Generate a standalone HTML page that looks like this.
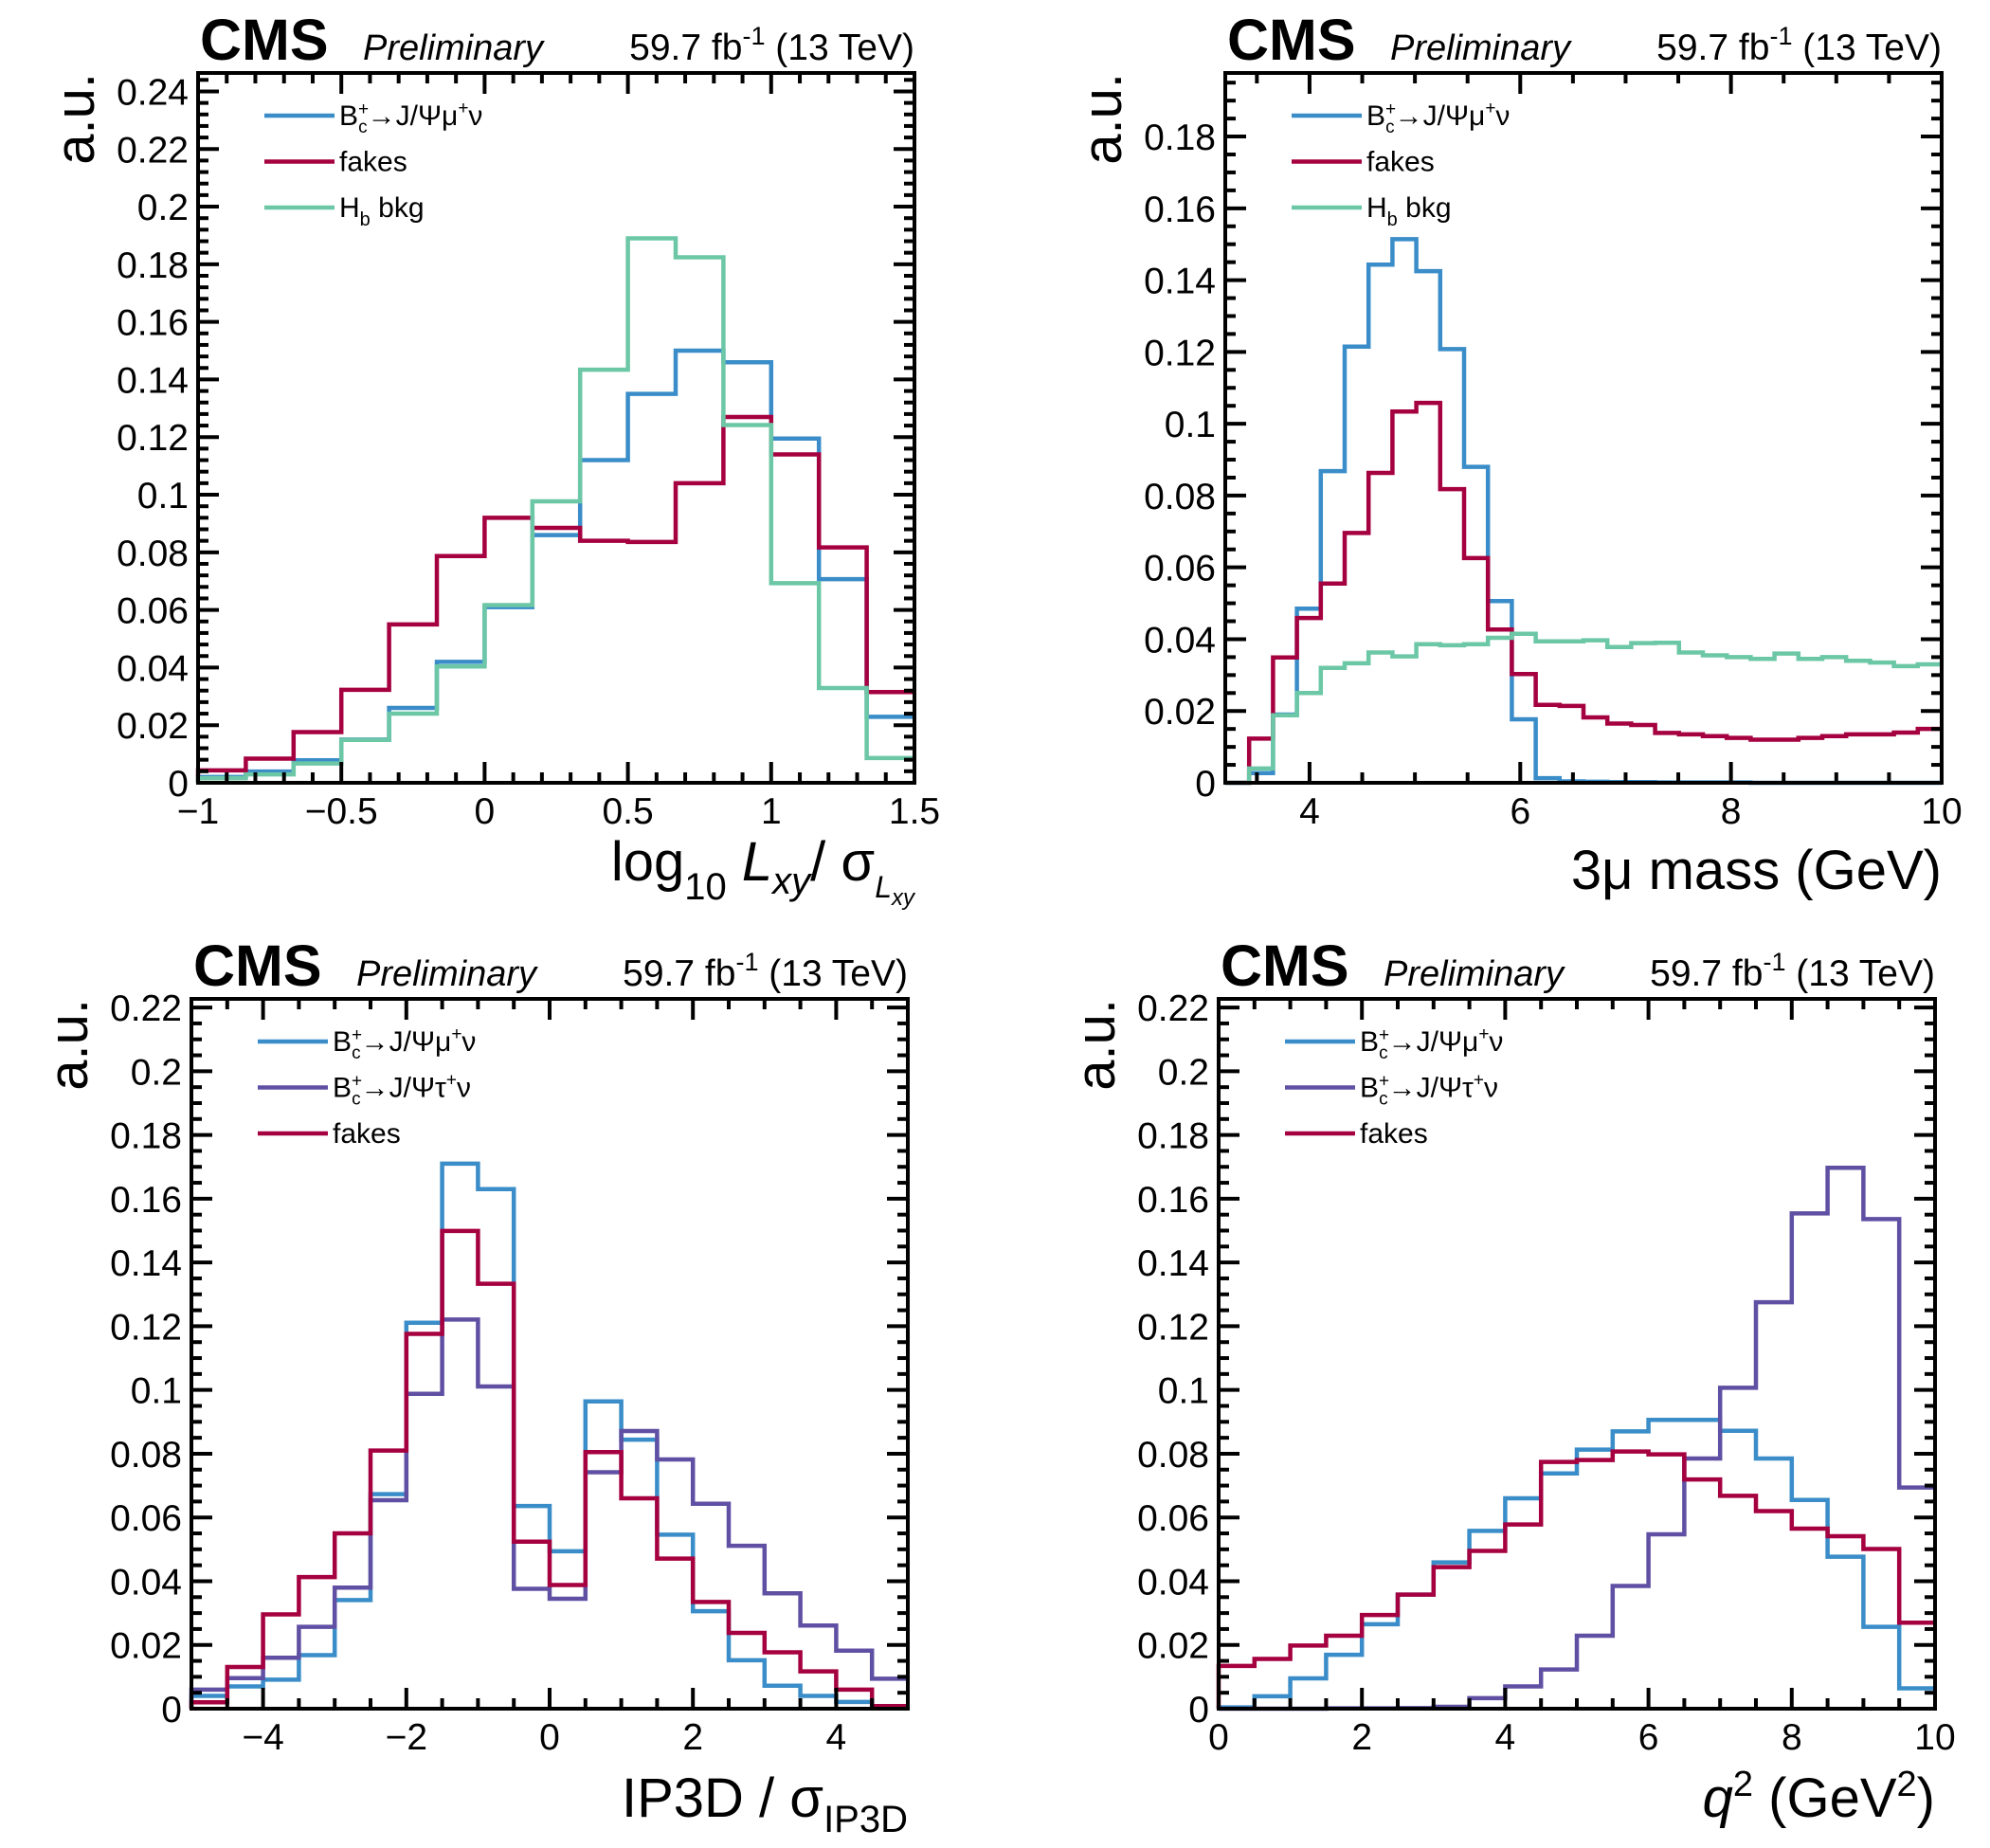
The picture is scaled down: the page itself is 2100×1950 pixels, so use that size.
<!DOCTYPE html>
<html><head><meta charset="utf-8"><style>
html,body{margin:0;padding:0;background:#fff;}
svg{display:block;font-family:"Liberation Sans",Arial,sans-serif;}
</style></head><body>
<svg id="root" width="2100" height="1950" viewBox="0 0 2100 1950" xmlns="http://www.w3.org/2000/svg"></svg>
<script>
// ---------- Panel 1 data: log10 Lxy/sigma ----------
const p1Range = [-1, 1.5];
const p1BinCount = 15;
const p1Blue = [0.002,0.0039,0.0078,0.015,0.026,0.042,0.061,0.086,0.112,0.135,0.150,0.146,0.1195,0.0707,0.0229];
const p1Red = [0.0043,0.0084,0.0176,0.0323,0.055,0.0787,0.092,0.0885,0.084,0.0836,0.104,0.127,0.114,0.0817,0.0315];
const p1Teal = [0.0016,0.0029,0.0067,0.0149,0.024,0.0404,0.0617,0.0977,0.1434,0.189,0.1824,0.1242,0.0693,0.0329,0.0086];
const p1YTicks = ["0","0.02","0.04","0.06","0.08","0.1","0.12","0.14","0.16","0.18","0.2","0.22","0.24"];
const p1XTicks = ["\u22121","\u22120.5","0","0.5","1","1.5"];

// ---------- Panel 2 data: 3mu mass ----------
const p2Range = [3.2, 10];
const p2BinCount = 30;
const p2Blue = [0,0.0027,0.019,0.0485,0.0868,0.1215,0.1443,0.1514,0.1425,0.1208,0.088,0.0506,0.0177,0.0013,0.0004,0.0003,0.0002,0.0002,0.0001,0.0001,0.0001,0.0001,0,0,0,0,0,0,0,0];
const p2Red = [0,0.0123,0.0349,0.0459,0.0555,0.0696,0.0863,0.1034,0.1058,0.0818,0.0626,0.0427,0.0303,0.0217,0.0214,0.0182,0.0165,0.0161,0.0139,0.0135,0.013,0.0125,0.012,0.012,0.0125,0.013,0.0135,0.0135,0.014,0.015];
const p2Teal = [0,0.004,0.0188,0.025,0.032,0.0333,0.0363,0.0352,0.0386,0.0383,0.0386,0.0404,0.0415,0.0394,0.0394,0.0397,0.0378,0.0389,0.039,0.0363,0.0355,0.035,0.0345,0.036,0.0345,0.035,0.034,0.0335,0.0325,0.033];
const p2YTicks = ["0","0.02","0.04","0.06","0.08","0.1","0.12","0.14","0.16","0.18"];
const p2XTicks = ["4","6","8","10"];

// ---------- Panel 3 data: IP3D significance ----------
const p3Range = [-5, 5];
const p3BinCount = 20;
const p3Blue = [0.004,0.007,0.0091,0.0168,0.0341,0.0673,0.1211,0.171,0.163,0.0636,0.0494,0.0964,0.0844,0.0546,0.0306,0.0152,0.0072,0.004,0.0021,0.0008];
const p3Purple = [0.006,0.0096,0.016,0.0257,0.038,0.0654,0.0988,0.1221,0.1011,0.0376,0.0345,0.0742,0.0871,0.0782,0.0643,0.0511,0.0362,0.0261,0.0182,0.0094];
const p3Red = [0.002,0.0131,0.0296,0.0413,0.055,0.081,0.1176,0.1499,0.1333,0.0524,0.0388,0.0805,0.066,0.0471,0.0335,0.0238,0.0177,0.0117,0.006,0.0008];
const p3YTicks = ["0","0.02","0.04","0.06","0.08","0.1","0.12","0.14","0.16","0.18","0.2","0.22"];
const p3XTicks = ["\u22124","\u22122","0","2","4"];

// ---------- Panel 4 data: q^2 ----------
const p4Range = [0, 10];
const p4BinCount = 20;
const p4Blue = [0.0004,0.0039,0.0095,0.0169,0.0265,0.0358,0.0459,0.0558,0.066,0.0738,0.0813,0.087,0.0906,0.0906,0.0872,0.0785,0.0655,0.0477,0.0257,0.0064];
const p4Purple = [0,0,0,0.0001,0.0001,0.0002,0.0006,0.0033,0.007,0.0123,0.0229,0.0385,0.0547,0.0785,0.1007,0.1275,0.1554,0.1697,0.1536,0.0694];
const p4Red = [0.0134,0.0156,0.0198,0.0229,0.0294,0.0358,0.0444,0.0495,0.0578,0.0774,0.078,0.0807,0.0798,0.0719,0.0668,0.062,0.0565,0.0541,0.0501,0.027];
const p4YTicks = ["0","0.02","0.04","0.06","0.08","0.1","0.12","0.14","0.16","0.18","0.2","0.22"];
const p4XTicks = ["0","2","4","6","8","10"];

const BLUE="#3a8dc8", RED="#a5003f", TEAL="#6cc7a6", PURPLE="#6050a3";
const NS="http://www.w3.org/2000/svg";
const root=document.getElementById('root');
function mk(tag,attrs,parent){const e=document.createElementNS(NS,tag);for(const k in attrs)e.setAttribute(k,attrs[k]);(parent||root).appendChild(e);return e;}

function panel(o){
  const g=mk('g',{});
  
  
  const L=o.left,T=o.top,W=756,H=o.h,B=T+H;
  const xs=v=>L+(v-o.xr[0])/(o.xr[1]-o.xr[0])*W;
  const ys=v=>B-v/o.ymax*H;
  o.series.forEach(s=>{
    const n=s.vals.length, bw=(o.xr[1]-o.xr[0])/n;
    let d="M"+xs(o.xr[0])+","+ys(0);
    s.vals.forEach((v,i)=>{d+=" L"+xs(o.xr[0]+i*bw)+","+ys(v)+" L"+xs(o.xr[0]+(i+1)*bw)+","+ys(v);});
    const p=mk('path',{d:d,fill:"none",stroke:s.color,"stroke-width":4.5,"stroke-linejoin":"miter"},g);
    
    
  });
  const fr=mk('rect',{x:L,y:T,width:W,height:H,fill:"none",stroke:"#000","stroke-width":4},g);
  
  
  const ty=mk('g',{stroke:"#000","stroke-width":4},g);
  
  
  for(let v=0; v<=o.ymax+1e-9; v+=o.yminor){
    const major=Math.abs(v/o.ymajor-Math.round(v/o.ymajor))<1e-6;
    const len=major?22:11, y=ys(v);
    mk('line',{x1:L,x2:L+len,y1:y,y2:y},ty);
    mk('line',{x1:L+W,x2:L+W-len,y1:y,y2:y},ty);
  }
  o.yLabels.forEach((t,i)=>{
    const e=mk('text',{x:L-10,y:ys(i*o.ymajor)+14,"text-anchor":"end","font-size":39},g);
    e.textContent=t;
    
    
  });
  const tx=mk('g',{stroke:"#000","stroke-width":4},g);
  
  
  const start=Math.ceil(o.xr[0]/o.xminor-1e-9)*o.xminor;
  for(let v=start; v<=o.xr[1]+1e-9; v+=o.xminor){
    const major=Math.abs(v/o.xmajor-Math.round(v/o.xmajor))<1e-6;
    const len=major?22:11, x=xs(v);
    mk('line',{x1:x,x2:x,y1:B,y2:B-len},tx);
    mk('line',{x1:x,x2:x,y1:T,y2:T+len},tx);
  }
  o.xLabels.forEach((t,i)=>{
    const e=mk('text',{x:xs(o.xFirst+i*o.xmajor),y:B+43,"text-anchor":"middle","font-size":39},g);
    e.textContent=t;
    
    
  });
  const cms=mk('text',{x:L+2,y:T-14,"font-size":61,"font-weight":"bold"},g);
  cms.textContent="CMS";
  
  
  const pre=mk('text',{x:L+174,y:T-14,"font-size":38,"font-style":"italic"},g);
  pre.textContent="Preliminary";
  
  
  const lum=mk('text',{x:L+W,y:T-14,"font-size":39,"text-anchor":"end"},g);
  lum.innerHTML='59.7 fb<tspan dy="-16" font-size="27">-1</tspan><tspan dy="16"> (13 TeV)</tspan>';
  
  
  const yt=mk('text',{x:0,y:0,"font-size":58,"text-anchor":"end",transform:`translate(${L-110},${T}) rotate(-90)`},g);
  yt.textContent="a.u.";
  
  
  const xt=mk('text',{x:L+W,y:o.xtY,"font-size":58,"text-anchor":"end"},g);
  xt.innerHTML=o.xTitle;
  
  
  o.series.forEach((s,i)=>{
    const y=T+45+i*48.5;
    const ln=mk('line',{x1:L+70,x2:L+144,y1:y,y2:y,stroke:s.color,"stroke-width":4.5},g);
    
    
    const tt=mk('text',{x:L+149,y:y+10,"font-size":30},g);
    tt.innerHTML=s.label;
    
    
  });
}
const bmu='B<tspan font-size="19" dy="-11">+</tspan><tspan font-size="19" dx="-11" dy="19">c</tspan><tspan dy="-8">\u2192J/\u03A8\u03BC</tspan><tspan font-size="19" dy="-12">+</tspan><tspan dy="12">\u03BD</tspan>';
const btau='B<tspan font-size="19" dy="-11">+</tspan><tspan font-size="19" dx="-11" dy="19">c</tspan><tspan dy="-8">\u2192J/\u03A8\u03C4</tspan><tspan font-size="19" dy="-12">+</tspan><tspan dy="12">\u03BD</tspan>';
const fakes='fakes';
const hb='H<tspan font-size="20" dy="9">b</tspan><tspan dy="-9"> bkg</tspan>';

panel({name:"panel-lxy-significance",left:209,top:77,h:749,xr:p1Range,ymax:0.2464,ymajor:0.02,yminor:0.004,xmajor:0.5,xminor:0.1,xFirst:-1,
 yLabels:p1YTicks,xLabels:p1XTicks,xtY:929,
 xTitle:'log<tspan font-size="40" dy="20">10</tspan><tspan dy="-20" font-style="italic"> L</tspan><tspan font-style="italic" font-size="40" dy="14">xy</tspan><tspan dy="-14">/  \u03C3</tspan><tspan font-style="italic" font-size="32" dy="18">L</tspan><tspan font-style="italic" font-size="24" dy="8">xy</tspan>',
 series:[{name:"series-bc-jpsi-mu",color:BLUE,vals:p1Blue,label:bmu},{name:"series-fakes",color:RED,vals:p1Red,label:fakes},{name:"series-hb-bkg",color:TEAL,vals:p1Teal,label:hb}]});

panel({name:"panel-3mu-mass",left:1293,top:77,h:749,xr:p2Range,ymax:0.1977,ymajor:0.02,yminor:0.005,xmajor:2,xminor:0.5,xFirst:4,
 yLabels:p2YTicks,xLabels:p2XTicks,xtY:938,
 xTitle:'3\u03BC mass (GeV)',
 series:[{name:"series-bc-jpsi-mu",color:BLUE,vals:p2Blue,label:bmu},{name:"series-fakes",color:RED,vals:p2Red,label:fakes},{name:"series-hb-bkg",color:TEAL,vals:p2Teal,label:hb}]});

panel({name:"panel-ip3d-significance",left:202,top:1054,h:749,xr:p3Range,ymax:0.2227,ymajor:0.02,yminor:0.005,xmajor:2,xminor:0.5,xFirst:-4,
 yLabels:p3YTicks,xLabels:p3XTicks,xtY:1917,
 xTitle:'IP3D / \u03C3<tspan font-size="40" dy="16">IP3D</tspan>',
 series:[{name:"series-bc-jpsi-mu",color:BLUE,vals:p3Blue,label:bmu},{name:"series-bc-jpsi-tau",color:PURPLE,vals:p3Purple,label:btau},{name:"series-fakes",color:RED,vals:p3Red,label:fakes}]});

panel({name:"panel-q2",left:1286,top:1054,h:749,xr:p4Range,ymax:0.2227,ymajor:0.02,yminor:0.005,xmajor:2,xminor:0.5,xFirst:0,
 yLabels:p4YTicks,xLabels:p4XTicks,xtY:1917,
 xTitle:'<tspan font-style="italic">q</tspan><tspan font-size="38" dy="-22">2</tspan><tspan dy="22"> (GeV</tspan><tspan font-size="38" dy="-22">2</tspan><tspan dy="22">)</tspan>',
 series:[{name:"series-bc-jpsi-mu",color:BLUE,vals:p4Blue,label:bmu},{name:"series-bc-jpsi-tau",color:PURPLE,vals:p4Purple,label:btau},{name:"series-fakes",color:RED,vals:p4Red,label:fakes}]});
</script>
</body></html>
